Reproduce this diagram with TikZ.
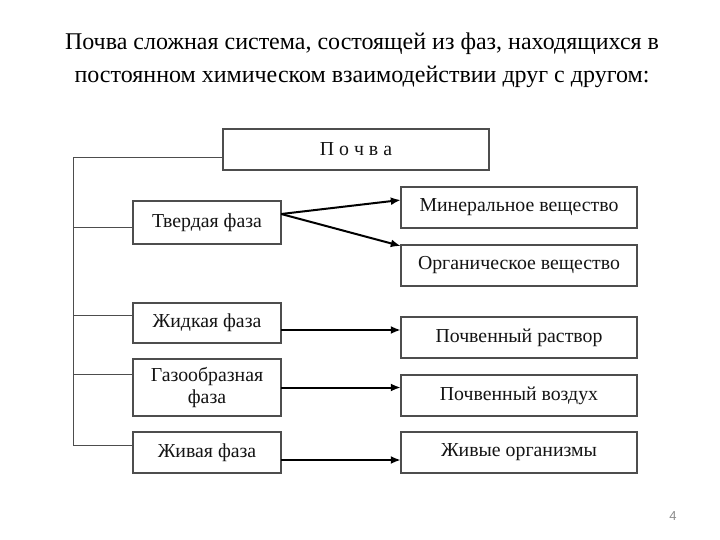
\documentclass[tikz,border=0pt]{standalone}
\usepackage{fontspec}
\setmainfont{Liberation Serif}
\setsansfont{Liberation Sans}
\usetikzlibrary{arrows.meta,positioning}
\definecolor{ink}{HTML}{141414}
\definecolor{frame}{HTML}{4D4D4D}
\definecolor{pagenum}{HTML}{8C8C8C}
\tikzset{
  box/.style  = {rectangle, draw=frame, fill=white, line width=1.6pt, text=ink, align=center,
                 font=\fontsize{19.8}{22}\selectfont, inner sep=2pt, outer sep=0pt, minimum height=41.4pt},
  lbox/.style = {box, minimum width=148.4pt},
  rbox/.style = {box, minimum width=236.4pt},
  ln/.style   = {line width=1pt, draw=frame},
  fl/.style   = {-{Latex[length=10pt,width=8pt]}, line width=2pt, draw=black},
}

\begin{document}
\begin{tikzpicture}[x=1pt, y=-1pt]
\useasboundingbox (0,0) rectangle (720,540);
\node[font=\fontsize{24}{33}\selectfont, align=center, text=black] (title) at (362,60)
  {Почва сложная система, состоящей из фаз, находящихся в\\постоянном химическом взаимодействии друг с другом:};
\node[box, minimum width=266.4pt] (pochva) at (356,149.5) {П о ч в а};
% phases
\node[lbox, minimum height=43.4pt] (tverd) at (207,222.5) {Твердая фаза};
\node[lbox, minimum height=40.4pt, below=58.6pt of tverd] (zhid) {Жидкая фаза};
\node[lbox, minimum height=57.4pt, below=15.6pt of zhid] (gaz) {Газообразная\\фаза};
\node[lbox, below=15.6pt of gaz] (zhiv) {Живая фаза};
% components
\node[rbox] (miner) at (519,207.5) {Минеральное вещество};
\node[rbox, below=16.6pt of miner] (organ) {Органическое вещество};
\node[rbox, below=30.6pt of organ] (rastvor) {Почвенный раствор};
\node[rbox, below=16.6pt of rastvor] (vozduh) {Почвенный воздух};
\node[rbox, below=15.6pt of vozduh] (organizm) {Живые организмы};
\node[font=\sffamily\fontsize{13}{13}\selectfont, text=pagenum] (page) at (673,516) {4};
% bracket
\coordinate (bus) at (73,0);
\draw[ln] ([yshift=-8.5pt]pochva.west) -- ([yshift=-8.5pt]pochva.west -| bus)
  -- ([yshift=7.5pt]zhiv.west -| bus) -- ([yshift=7.5pt]zhiv.west);
\foreach \n/\dy in {tverd/-5.5, zhid/8, gaz/13.5}
  \draw[ln] ([yshift=\dy pt]\n.west -| bus) -- ([yshift=\dy pt]\n.west);
% arrows
\draw[fl] ([yshift=8.5pt]tverd.east) -- ([yshift=7.5pt]miner.west);
\draw[fl] ([yshift=8.5pt]tverd.east) -- ([yshift=19.5pt]organ.west);
\draw[fl] ([yshift=-7pt]zhid.east) -- ([yshift=-7pt]zhid.east -| rastvor.west);
\draw[fl] (gaz.east) -- (gaz.east -| vozduh.west);
\draw[fl] ([yshift=-7.5pt]zhiv.east) -- ([yshift=-7.5pt]zhiv.east -| organizm.west);
\end{tikzpicture}
\end{document}
